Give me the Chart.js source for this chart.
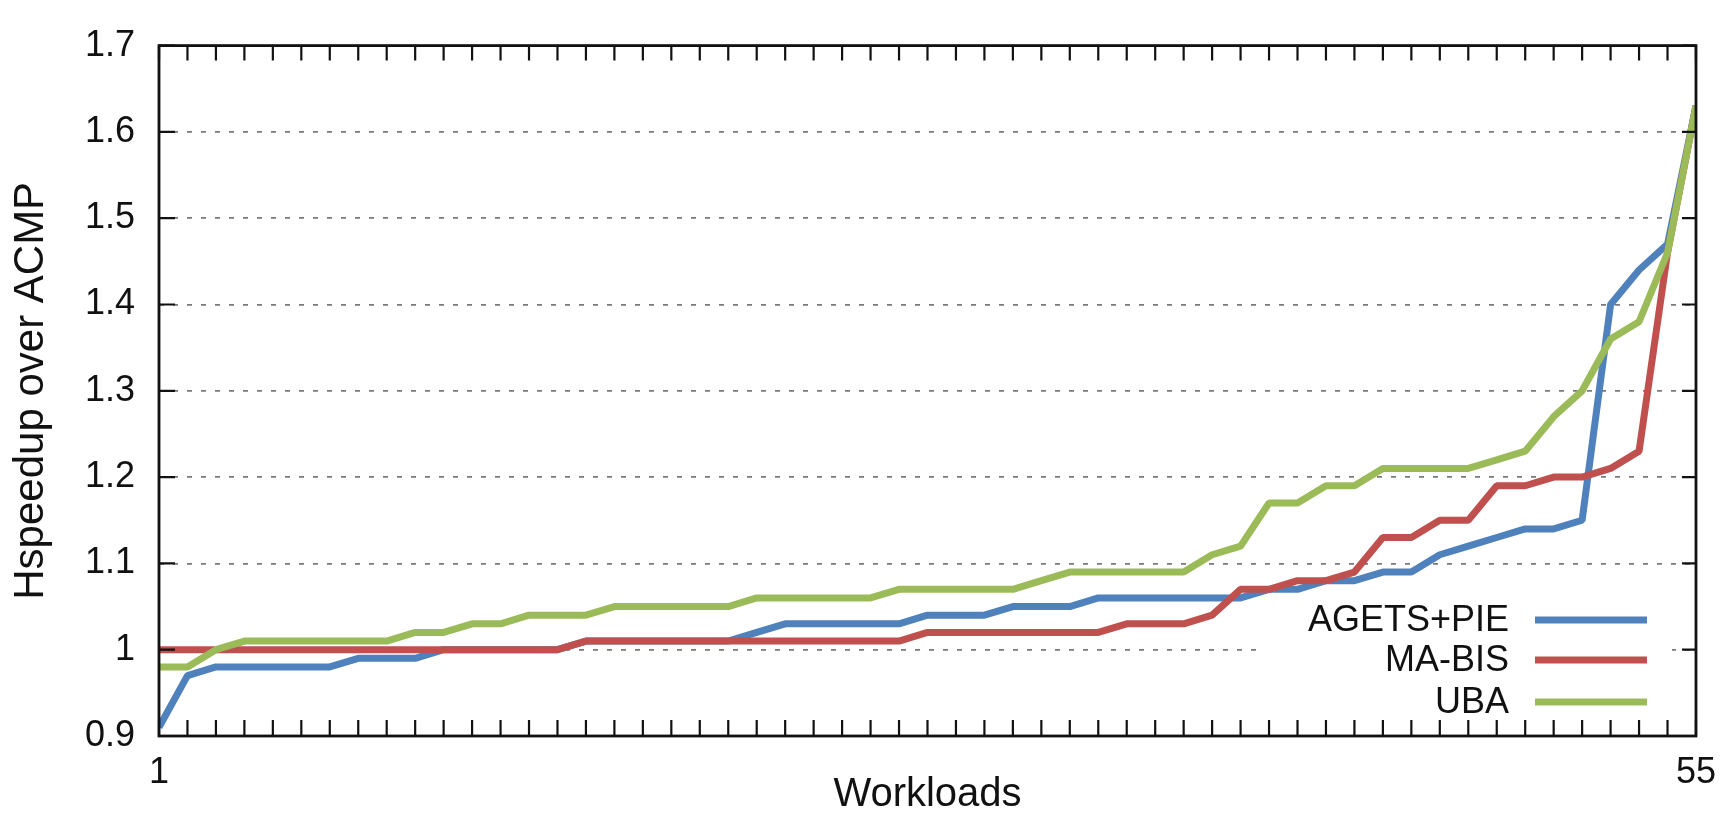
<!DOCTYPE html>
<html>
<head>
<meta charset="utf-8">
<title>Hspeedup over ACMP</title>
<script src="https://cdn.jsdelivr.net/npm/chart.js@4.4.0/dist/chart.umd.min.js"></script>
<style>
  html, body { margin: 0; padding: 0; background: #fff; }
  #wrap { position: relative; width: 1731px; height: 815px; }
</style>
</head>
<body>
<div id="wrap"><canvas id="chart" width="1731" height="815"></canvas></div>
<script>
// Workload index (sorted by speedup) on the x axis
const workloads = [
  1, 2, 3, 4, 5, 6, 7, 8, 9, 10, 11, 12, 13, 14, 15, 16, 17, 18, 19, 20,
  21, 22, 23, 24, 25, 26, 27, 28, 29, 30, 31, 32, 33, 34, 35, 36, 37, 38, 39, 40,
  41, 42, 43, 44, 45, 46, 47, 48, 49, 50, 51, 52, 53, 54, 55
];

// Hspeedup over ACMP for each scheduler
const agetsPie = [
  0.91, 0.97, 0.98, 0.98, 0.98, 0.98, 0.98, 0.99, 0.99, 0.99,
  1.00, 1.00, 1.00, 1.00, 1.00, 1.01, 1.01, 1.01, 1.01, 1.01,
  1.01, 1.02, 1.03, 1.03, 1.03, 1.03, 1.03, 1.04, 1.04, 1.04,
  1.05, 1.05, 1.05, 1.06, 1.06, 1.06, 1.06, 1.06, 1.06, 1.07,
  1.07, 1.08, 1.08, 1.09, 1.09, 1.11, 1.12, 1.13, 1.14, 1.14,
  1.15, 1.40, 1.44, 1.47, 1.63
];
const maBis = [
  1.00, 1.00, 1.00, 1.00, 1.00, 1.00, 1.00, 1.00, 1.00, 1.00,
  1.00, 1.00, 1.00, 1.00, 1.00, 1.01, 1.01, 1.01, 1.01, 1.01,
  1.01, 1.01, 1.01, 1.01, 1.01, 1.01, 1.01, 1.02, 1.02, 1.02,
  1.02, 1.02, 1.02, 1.02, 1.03, 1.03, 1.03, 1.04, 1.07, 1.07,
  1.08, 1.08, 1.09, 1.13, 1.13, 1.15, 1.15, 1.19, 1.19, 1.20,
  1.20, 1.21, 1.23, 1.46, 1.63
];
const uba = [
  0.98, 0.98, 1.00, 1.01, 1.01, 1.01, 1.01, 1.01, 1.01, 1.02,
  1.02, 1.03, 1.03, 1.04, 1.04, 1.04, 1.05, 1.05, 1.05, 1.05,
  1.05, 1.06, 1.06, 1.06, 1.06, 1.06, 1.07, 1.07, 1.07, 1.07,
  1.07, 1.08, 1.09, 1.09, 1.09, 1.09, 1.09, 1.11, 1.12, 1.17,
  1.17, 1.19, 1.19, 1.21, 1.21, 1.21, 1.21, 1.22, 1.23, 1.27,
  1.30, 1.36, 1.38, 1.46, 1.63
];

const seriesNames = ['AGETS+PIE', 'MA-BIS', 'UBA'];

// Axis ticks
const yTickValues = [0.9, 1.0, 1.1, 1.2, 1.3, 1.4, 1.5, 1.6, 1.7];
const yTickLabels = ['0.9', '1', '1.1', '1.2', '1.3', '1.4', '1.5', '1.6', '1.7'];
const xLabelledTicks = [1, 55];

const FONT = '"Liberation Sans", Arial, Helvetica, sans-serif';
const INK = '#111';

const toPoints = vals => vals.map((v, i) => ({ x: workloads[i], y: v }));

// Closed frame with inward tick marks on all four sides
const frameTicks = {
  id: 'frameTicks',
  afterDatasetsDraw(chart) {
    const { ctx, chartArea: a, scales: { x, y } } = chart;
    ctx.save();
    ctx.strokeStyle = INK;
    ctx.lineWidth = 2.2;
    ctx.beginPath();
    y.ticks.forEach(t => {
      const py = y.getPixelForValue(t.value);
      ctx.moveTo(a.left, py);  ctx.lineTo(a.left + 16, py);
      ctx.moveTo(a.right, py); ctx.lineTo(a.right - 14, py);
    });
    x.ticks.forEach(t => {
      const px = x.getPixelForValue(t.value);
      ctx.moveTo(px, a.bottom); ctx.lineTo(px, a.bottom - 16);
      ctx.moveTo(px, a.top);    ctx.lineTo(px, a.top + 15);
    });
    ctx.stroke();
    ctx.lineWidth = 2.8;
    ctx.strokeRect(a.left, a.top, a.right - a.left, a.bottom - a.top);
    ctx.restore();
  }
};

// Key drawn inside the plot, lower right, on an opaque box
const insetKey = {
  id: 'insetKey',
  beforeDatasetsDraw(chart) {
    const { ctx, chartArea: a } = chart;
    ctx.save();
    ctx.fillStyle = '#fff';
    ctx.fillRect(a.right - 438, a.bottom - 141, 414, 133);
    ctx.restore();
  },
  afterDatasetsDraw(chart) {
    const { ctx, chartArea: a } = chart;
    const rows = [a.bottom - 116, a.bottom - 76, a.bottom - 34];
    ctx.save();
    ctx.font = '36px ' + FONT;
    ctx.textAlign = 'right';
    ctx.textBaseline = 'middle';
    chart.data.datasets.forEach((ds, i) => {
      const yy = rows[i];
      ctx.fillStyle = INK;
      ctx.fillText(ds.label, a.right - 187, yy + 1);
      ctx.strokeStyle = ds.borderColor;
      ctx.lineWidth = ds.borderWidth;
      ctx.lineCap = 'butt';
      ctx.beginPath();
      ctx.moveTo(a.right - 161, yy);
      ctx.lineTo(a.right - 49, yy);
      ctx.stroke();
    });
    ctx.restore();
  }
};

const lineStyle = {
  borderWidth: 7,
  pointRadius: 0,
  pointHoverRadius: 0,
  tension: 0,
  fill: false,
  borderJoinStyle: 'bevel',
  borderCapStyle: 'butt'
};

new Chart(document.getElementById('chart'), {
  type: 'line',
  data: {
    datasets: [
      { label: seriesNames[0], data: toPoints(agetsPie), borderColor: '#4F81BD', order: 3, ...lineStyle },
      { label: seriesNames[1], data: toPoints(maBis),    borderColor: '#C0504D', order: 2, ...lineStyle },
      { label: seriesNames[2], data: toPoints(uba),      borderColor: '#9BBB59', order: 1, ...lineStyle }
    ]
  },
  options: {
    responsive: false,
    animation: false,
    devicePixelRatio: 1,
    layout: { padding: { top: 22, right: 31, left: 0, bottom: 0 } },
    plugins: {
      legend: { display: false },
      tooltip: { enabled: false }
    },
    scales: {
      x: {
        type: 'linear',
        min: 1,
        max: 55,
        afterBuildTicks: scale => { scale.ticks = workloads.map(v => ({ value: v })); },
        afterFit: scale => { scale.height = 79; },
        grid: { display: false, drawTicks: false },
        border: { display: false },
        ticks: {
          autoSkip: false,
          maxRotation: 0,
          padding: 15,
          color: INK,
          font: { family: FONT, size: 36 },
          callback: v => (xLabelledTicks.includes(v) ? String(v) : '')
        },
        title: {
          display: true,
          text: 'Workloads',
          color: INK,
          font: { family: FONT, size: 40, lineHeight: 1 },
          padding: { top: 0, bottom: 0 }
        }
      },
      y: {
        min: 0.9,
        max: 1.7,
        afterBuildTicks: scale => { scale.ticks = yTickValues.map(v => ({ value: v })); },
        afterFit: scale => { scale.width = 159; },
        grid: {
          color: '#7a7a7a',
          lineWidth: 1.8,
          drawTicks: false
        },
        border: { display: false, dash: [5, 9] },
        ticks: {
          padding: 24,
          color: INK,
          font: { family: FONT, size: 36 },
          callback: (v, i) => yTickLabels[i]
        },
        title: {
          display: true,
          text: 'Hspeedup over ACMP',
          color: INK,
          font: { family: FONT, size: 42, lineHeight: 1 },
          padding: { top: 10, bottom: 0 }
        }
      }
    }
  },
  plugins: [insetKey, frameTicks]
});
</script>
</body>
</html>
